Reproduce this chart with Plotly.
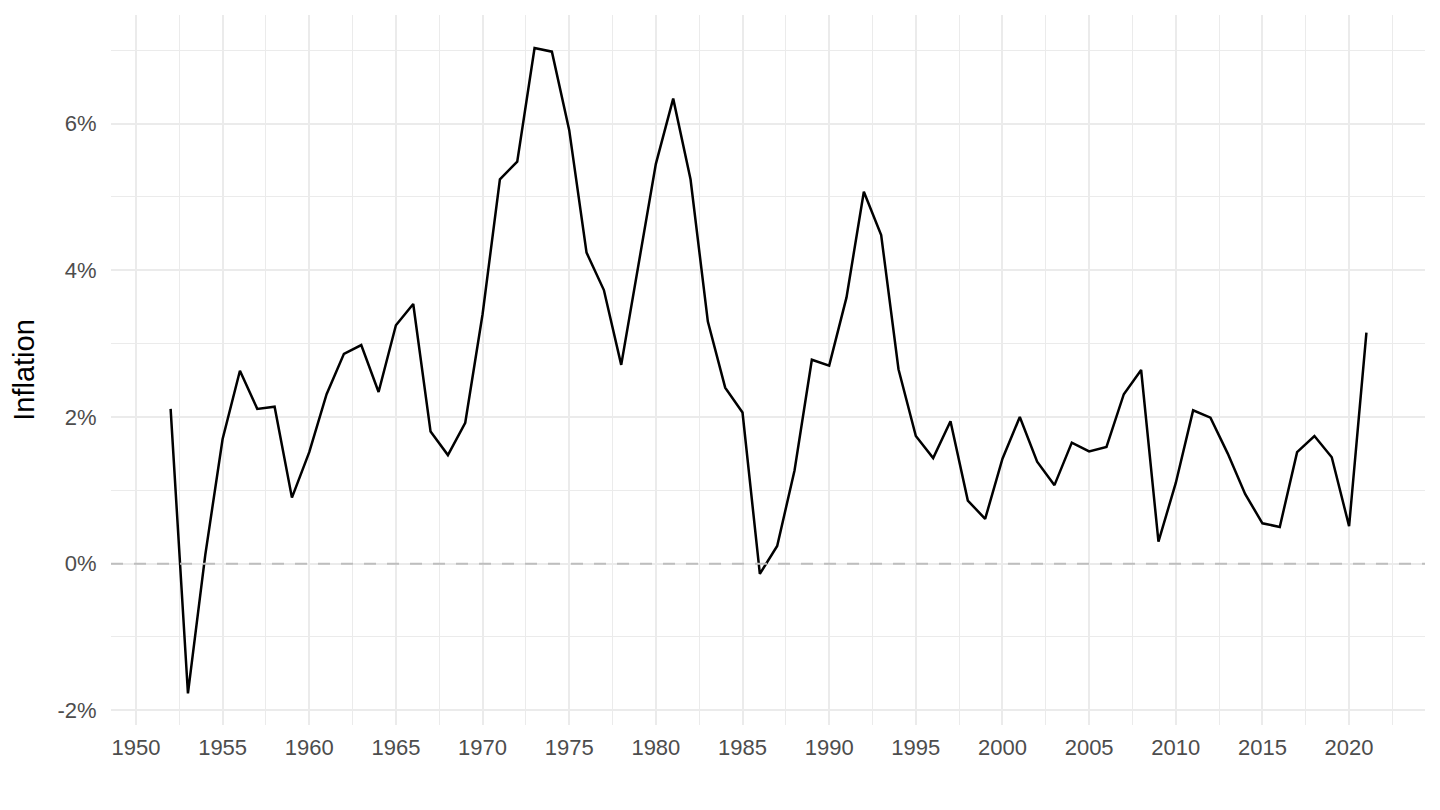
import plotly.graph_objects as go

# --- données : inflation annuelle (%) ---
years = list(range(1952, 2022))
inflation = [
    2.11, -1.77, 0.12, 1.70, 2.63, 2.11, 2.14, 0.90, 1.52, 2.31,
    2.86, 2.98, 2.34, 3.25, 3.54, 1.80, 1.48, 1.92, 3.40, 5.24,
    5.48, 7.03, 6.98, 5.91, 4.24, 3.73, 2.71, 4.07, 5.45, 6.34,
    5.24, 3.30, 2.40, 2.06, -0.14, 0.24, 1.27, 2.78, 2.70, 3.63,
    5.07, 4.48, 2.65, 1.74, 1.44, 1.94, 0.86, 0.61, 1.43, 2.00,
    1.39, 1.07, 1.65, 1.53, 1.59, 2.31, 2.64, 0.30, 1.10, 2.09,
    1.99, 1.50, 0.95, 0.55, 0.50, 1.52, 1.74, 1.45, 0.51, 3.15,
]

y_tickvals = [-2, 0, 2, 4, 6]
y_ticktext = ["-2%", "0%", "2%", "4%", "6%"]

GRID = "#EBEBEB"
TXT = "#4D4D4D"

fig = go.Figure()
fig.add_trace(go.Scatter(x=years, y=inflation, mode="lines",
                         line=dict(color="black", width=2.5),
                         showlegend=False))

# ligne de référence à 0
fig.add_hline(y=0, line=dict(color="#BEBEBE", width=2, dash="12px,11px"), layer="above")

# la page ajoute 8px de marge autour du graphique
fig.update_layout(
    width=1424, height=794,
    paper_bgcolor="white", plot_bgcolor="white",
    margin=dict(l=103, r=7, t=7, b=77),
    font=dict(family="Liberation Sans, Arial, sans-serif", size=22, color=TXT),
)
fig.update_xaxes(
    range=[1948.56, 2024.38], tick0=1950, dtick=5,
    showgrid=True, gridcolor=GRID, gridwidth=2,
    minor=dict(dtick=2.5, showgrid=True, gridcolor=GRID, gridwidth=1),
    zeroline=False, showline=False,
    ticks="outside", ticklen=3, tickcolor="rgba(0,0,0,0)",
    tickfont=dict(size=22, color=TXT),
)
fig.update_yaxes(
    range=[-2.20, 7.48], tickvals=y_tickvals, ticktext=y_ticktext,
    showgrid=True, gridcolor=GRID, gridwidth=2,
    minor=dict(dtick=1, showgrid=True, gridcolor=GRID, gridwidth=1),
    zeroline=False, showline=False,
    ticks="outside", ticklen=9, tickcolor="rgba(0,0,0,0)",
    tickfont=dict(size=22, color=TXT),
    title=dict(text="Inflation", font=dict(size=29, color="black"), standoff=16),
)

fig.write_html("out.html")
